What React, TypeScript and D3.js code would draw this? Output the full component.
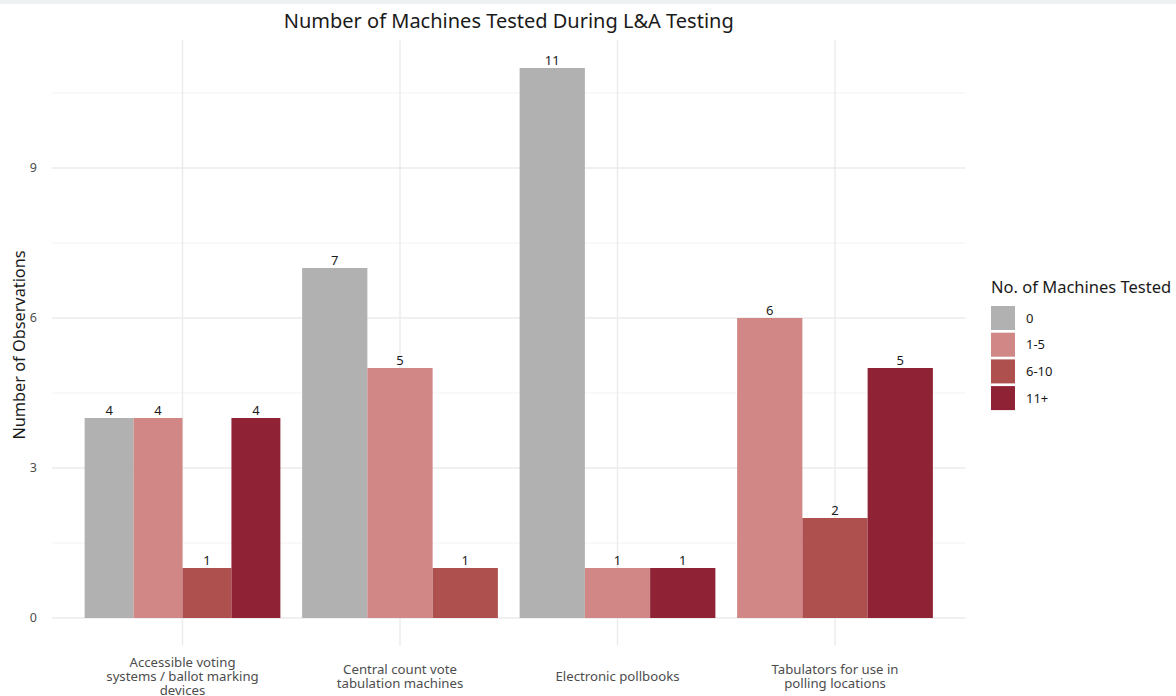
import React from 'react';
import * as d3 from 'd3';

const categories = [
  ['Accessible voting', 'systems / ballot marking', 'devices'],
  ['Central count vote', 'tabulation machines'],
  ['Electronic pollbooks'],
  ['Tabulators for use in', 'polling locations'],
];
const seriesNames = ['0', '1-5', '6-10', '11+'];
const seriesColors = ['#b1b1b1', '#d08785', '#ae504e', '#8f2234'];
// counts per series, one entry per category (null = no bar)
const s0 = [4, 7, 11, null];
const s1to5 = [4, 5, 1, 6];
const s6to10 = [1, 1, null, 2];
const s11plus = [4, null, 1, 5];
const yTicks = [0, 3, 6, 9];

const seriesValues = [s0, s1to5, s6to10, s11plus];

const W = 1176;
const H = 696;
const font = "'Noto Sans', sans-serif";

const App: React.FC = () => {
  /* ---------- Layout ---------- */
  const panel = { left: 52, right: 965.5, top: 40.5, bottom: 645.5 };
  const yMax = 11;

  const y = d3
    .scaleLinear()
    .domain([-yMax * 0.05, yMax * 1.05])
    .range([panel.bottom, panel.top]);

  // discrete axis with ggplot style 0.6 expansion
  const x = d3
    .scaleLinear()
    .domain([1 - 0.6, categories.length + 0.6])
    .range([panel.left, panel.right]);
  const unit = x(2) - x(1);

  const minorTicks = d3.range(1.5, yMax * 1.05, 3);

  type Bar = { cat: number; s: number; v: number; x0: number; w: number };
  const bars: Bar[] = [];
  categories.forEach((_, ci) => {
    const present = seriesValues
      .map((vals, si) => ({ si, v: vals[ci] }))
      .filter(d => d.v !== null) as { si: number; v: number }[];
    const total = unit * 0.9;
    const bw = total / present.length;
    const start = x(ci + 1) - total / 2;
    present.forEach((d, k) => {
      bars.push({ cat: ci, s: d.si, v: d.v, x0: start + k * bw, w: bw });
    });
  });

  const legendX = 991;
  const legendY = 306;
  const keySize = 24;
  const keyStep = 26.7;

  return (
    <div style={{ position: 'absolute', left: 0, top: 0 }}>
      <svg width={W} height={H} style={{ display: 'block', background: '#fff' }}>
        <rect x={0} y={0} width={W} height={4} fill="#eef1f2" />

        {/* grid */}
        {minorTicks.map(t => (
          <line key={'mn' + t} x1={panel.left} x2={panel.right} y1={y(t)} y2={y(t)} stroke="#f3f3f3" strokeWidth={1} />
        ))}
        {yTicks.map(t => (
          <line key={'mj' + t} x1={panel.left} x2={panel.right} y1={y(t)} y2={y(t)} stroke="#ebebeb" strokeWidth={1.4} />
        ))}
        {categories.map((_, i) => (
          <line key={'vx' + i} x1={x(i + 1)} x2={x(i + 1)} y1={panel.top} y2={panel.bottom} stroke="#ebebeb" strokeWidth={1.4} />
        ))}

        {/* bars */}
        {bars.map((b, i) => (
          <rect key={'b' + i} x={b.x0} y={y(b.v)} width={b.w} height={y(0) - y(b.v)} fill={seriesColors[b.s]} />
        ))}
        {bars.map((b, i) => (
          <text
            key={'l' + i}
            x={b.x0 + b.w / 2}
            y={y(b.v) - 3}
            textAnchor="middle"
            fontFamily={font}
            fontSize={13}
            fill="#1a1a1a"
          >
            {b.v}
          </text>
        ))}

        {/* y axis */}
        {yTicks.map(t => (
          <text key={'yt' + t} x={37} y={y(t)} dy="0.35em" textAnchor="end" fontFamily={font} fontSize={12.5} fill="#4d4d4d">
            {t}
          </text>
        ))}
        <text
          transform={`translate(25,${(panel.top + panel.bottom) / 2 + 2}) rotate(-90)`}
          textAnchor="middle"
          fontFamily={font}
          fontSize={16.3}
          fill="#1a1a1a"
        >
          Number of Observations
        </text>

        {/* x axis labels */}
        {categories.map((lines, i) => {
          const lh = 14;
          const cy = 676;
          const first = cy - ((lines.length - 1) * lh) / 2;
          return (
            <text key={'xl' + i} textAnchor="middle" fontFamily={font} fontSize={13.2} fill="#4d4d4d">
              {lines.map((ln, k) => (
                <tspan key={k} x={x(i + 1)} y={first + k * lh} dy="0.35em">
                  {ln}
                </tspan>
              ))}
            </text>
          );
        })}

        {/* title */}
        <text
          x={(panel.left + panel.right) / 2}
          y={28}
          textAnchor="middle"
          fontFamily={font}
          fontSize={20}
          fill="#1a1a1a"
        >
          Number of Machines Tested During L&amp;A Testing
        </text>

        {/* legend */}
        <text x={991} y={293} fontFamily={font} fontSize={16.5} fill="#1a1a1a">
          No. of Machines Tested
        </text>
        {seriesNames.map((name, i) => (
          <g key={'lg' + i} transform={`translate(${legendX},${legendY + i * keyStep})`}>
            <rect width={keySize} height={keySize} fill={seriesColors[i]} />
            <text x={35} y={keySize / 2} dy="0.35em" fontFamily={font} fontSize={13} fill="#1a1a1a">
              {name}
            </text>
          </g>
        ))}
      </svg>
    </div>
  );
};

export default App;
